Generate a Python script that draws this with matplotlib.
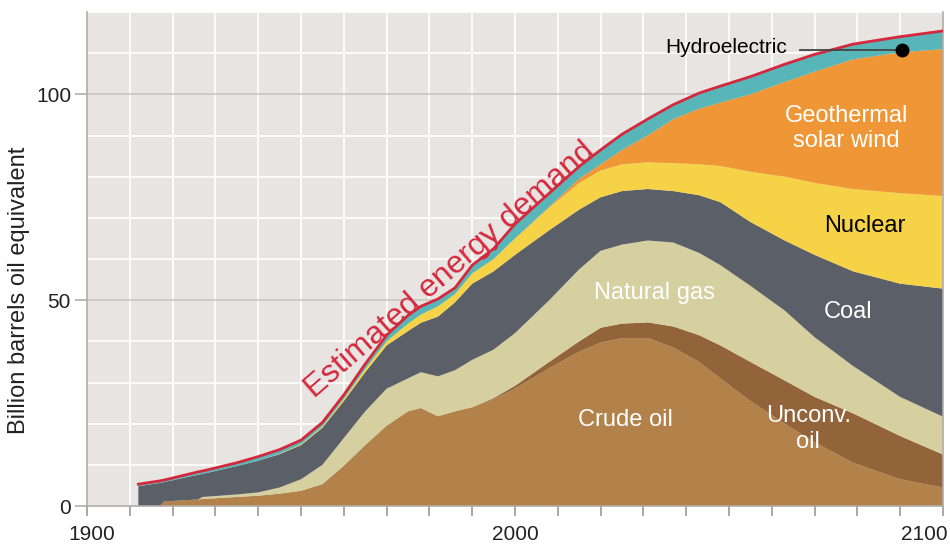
import numpy as np
import matplotlib
matplotlib.use("Agg")
import matplotlib.pyplot as plt
import matplotlib.transforms as mtransforms

plt.rcParams['font.family'] = ['Liberation Sans', 'DejaVu Sans']

# ---- data (upper edge of each stacked band, billion barrels oil equivalent) ----
years = [1912, 1917, 1918, 1926, 1927, 1935, 1940, 1945, 1950, 1955, 1960, 1965,
         1970, 1975, 1978, 1982, 1986, 1990, 1995, 2000, 2008, 2015, 2020, 2025,
         2031, 2037, 2043, 2048, 2055, 2063, 2070, 2079, 2090, 2100]
crude_top = [0, 0, 1.1, 1.6, 1.7, 2.2, 2.5, 3.0, 3.7, 5.3, 9.8, 14.8, 19.5, 23, 23.8,
             21.8, 23, 24, 26, 28.5, 33.5, 37.5, 39.7, 40.8, 40.8, 38.5, 35, 31,
             25.5, 20, 15.5, 10.5, 6.5, 4.5]
unconv_top = [0, 0, 1.1, 1.6, 1.7, 2.2, 2.5, 3.0, 3.7, 5.3, 9.8, 14.8, 19.5, 23, 23.8,
              21.8, 23, 24, 26.2, 29.2, 35, 40, 43.3, 44.3, 44.6, 43.6, 41.5, 39,
              35, 30.5, 26.5, 22.5, 17, 12.5]
gas_top = [0, 0, 1.1, 1.6, 2.2, 2.8, 3.3, 4.5, 6.5, 10.0, 16.5, 23.0, 28.5, 31, 32.5,
           31.5, 33, 35.5, 38, 42, 50, 57.5, 62, 63.5, 64.5, 64, 61.5, 58.5, 53.5,
           47.5, 41, 34, 26.5, 21.7]
coal_top = [4.8, 5.6, 5.8, 7.6, 7.8, 9.7, 11.0, 12.6, 14.8, 19.0, 25.5, 32.5, 39, 42.5,
            44.5, 46, 49.5, 54, 57, 61, 67, 72, 75, 76.5, 77, 76.5, 75.5, 73.8, 69,
            64.5, 61, 57, 54, 52.8]
nuclear_top = [4.8, 5.6, 5.8, 7.6, 7.8, 9.7, 11.0, 12.7, 15.0, 19.3, 26, 33.3, 40, 44.3,
               46.5, 48.5, 51.5, 56.5, 60, 65, 72.5, 78.5, 81.5, 83, 83.5, 83.3, 83,
               82.6, 81.2, 80, 78.5, 77, 76, 75.3]
renew_top = [4.8, 5.6, 5.8, 7.6, 7.8, 9.7, 11.0, 12.7, 15.0, 19.3, 26, 33.3, 40, 44.3,
             46.5, 48.5, 51.5, 56.5, 60, 65, 72.7, 79.5, 83, 86.5, 90, 94, 96.5, 98,
             100, 103, 105.5, 108.5, 110.2, 111]
hydro_top = [5.3, 6.1, 6.3, 8.3, 8.5, 10.5, 12.0, 13.7, 16.0, 20.3, 27, 34.5, 41.5, 46.3,
             48.5, 50.3, 53, 58.5, 62.5, 68.5, 76, 82.5, 86.5, 90.3, 94, 97.5, 100.3,
             102, 104.3, 107.3, 109.7, 112.2, 114, 115.4]

sources = ["Crude oil", "Unconv. oil", "Natural gas", "Coal", "Nuclear",
           "Geothermal solar wind", "Hydroelectric"]
colors = ["#b3824b", "#93633a", "#d6cf9f", "#5b5f67", "#f6d247", "#ef9637", "#58b6b8"]

tops = np.array([crude_top, unconv_top, gas_top, coal_top, nuclear_top, renew_top, hydro_top])
values = np.diff(np.vstack([np.zeros(len(years)), tops]), axis=0)

fig = plt.figure(figsize=(9.5, 5.46), dpi=100)
ax = fig.add_axes([87/950, 40/546, 856/950, 494/546])
ax.set_facecolor("#e8e4e1")

# grid
for yv in range(10, 121, 10):
    if yv in (50, 100):
        continue
    ax.axhline(yv, color="white", lw=1.2, zorder=0)
for xv in range(1910, 2100, 10):
    ax.axvline(xv, color="white", lw=1.2, zorder=0)
for yv in (50, 100):
    ax.axhline(yv, color="#c9c5c1", lw=1.2, zorder=0.5)

ax.stackplot(years, values, colors=colors, labels=sources, zorder=2, lw=0)
ax.plot(years, hydro_top, color="#d5283d", lw=2, zorder=3)

ax.set_xlim(1900, 2100)
ax.set_ylim(0, 120)

ax.spines["top"].set_visible(False)
for s in ("left", "right", "bottom"):
    ax.spines[s].set_color("#b0aca8")
    ax.spines[s].set_linewidth(1.2)

ax.set_xticks(range(1900, 2101, 10))
ax.set_xticklabels([str(y) if y % 100 == 0 else "" for y in range(1900, 2101, 10)])
ax.tick_params(axis="x", length=7.5, width=1.2, color="#9c9894", labelsize=15, pad=6,
               labelcolor="#222222")
lbls = ax.get_xticklabels()
lbls[0].set_transform(lbls[0].get_transform() +
                      mtransforms.ScaledTranslation(5/100, 0, fig.dpi_scale_trans))
lbls[-1].set_horizontalalignment("right")
lbls[-1].set_transform(lbls[-1].get_transform() +
                       mtransforms.ScaledTranslation(5/100, 0, fig.dpi_scale_trans))
ax.set_yticks([0, 50, 100])
ax.tick_params(axis="y", length=8.5, width=1.2, color="#b0aca8", labelsize=15, pad=3,
               labelcolor="#222222")
ax.set_ylabel("Billion barrels oil equivalent", fontsize=17, color="#222222")
ax.yaxis.set_label_coords(-0.067, 0.437)

# labels
fs = 17
ax.text(2025.8, 20.9, "Crude oil", color="white", fontsize=fs, ha="center", va="center")
ax.text(2032.5, 51.8, "Natural gas", color="white", fontsize=fs, ha="center", va="center")
ax.text(2068.5, 18.7, "Unconv.\noil", color="white", fontsize=fs, ha="center", va="center",
        linespacing=1.2)
ax.text(2077.8, 47.2, "Coal", color="white", fontsize=fs, ha="center", va="center")
ax.text(2081.8, 67.9, "Nuclear", color="black", fontsize=fs, ha="center", va="center")
ax.text(2077.5, 91.7, "Geothermal\nsolar wind", color="white", fontsize=fs, ha="center",
        va="center", linespacing=1.2)
ax.text(2049.3, 111.4, "Hydroelectric", color="black", fontsize=15, ha="center", va="center")
ax.plot([2066.6, 2090.4], [110.8, 110.8], color="#444444", lw=1.3, zorder=4)
ax.plot([2090.4], [110.8], "o", color="black", ms=9, zorder=5)
ax.text(1984.8, 57.3, "Estimated energy demand", color="#d5283d", fontsize=23,
        rotation=41, ha="center", va="center", rotation_mode="anchor")

fig.savefig("out.png", dpi=100, facecolor="white")
